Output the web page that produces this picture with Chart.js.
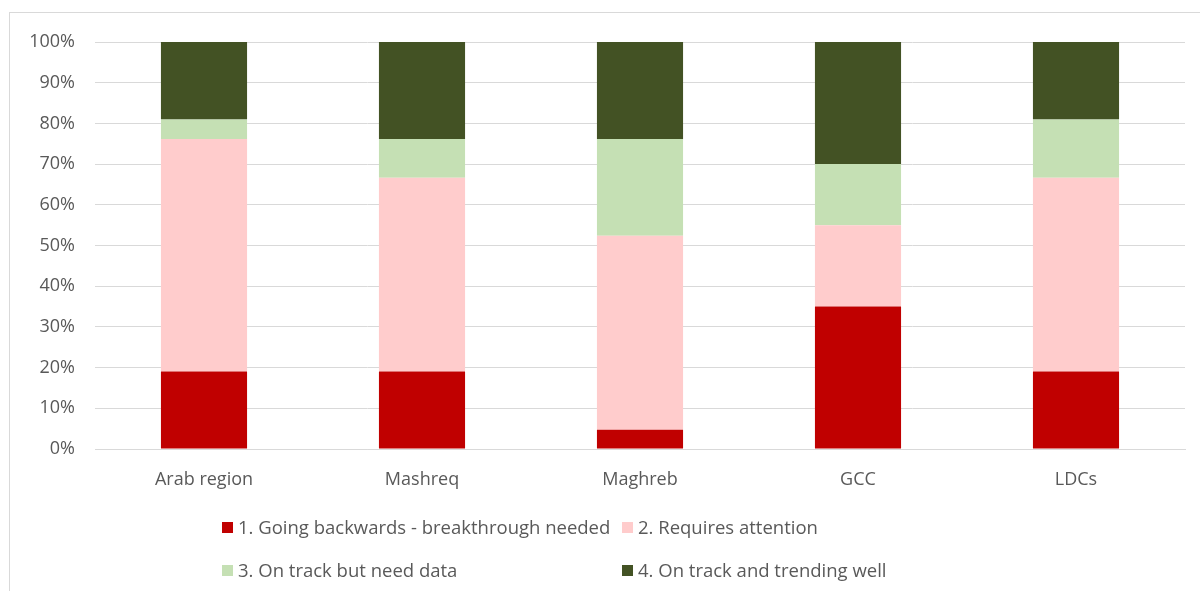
<!DOCTYPE html>
<html lang="en">
<head>
  <meta charset="UTF-8" />
  <title>Progress by sub-region</title>
  <script src="https://cdn.jsdelivr.net/npm/chart.js"></script>
  <style>
    body { margin: 0; background: #fff; }
    #caja { position: relative; width: 1200px; height: 591px; overflow: hidden; }
    #marco { position: absolute; left: 9px; top: 12px; width: 1300px; height: 700px; border: 1px solid #d9d9d9; }
    #leyenda { position: absolute; left: 222px; top: 513px; width: 800px;
      display: grid; grid-template-columns: 400px 400px; row-gap: 16px;
      font-family: "Open Sans", Lato, sans-serif; font-size: 18.5px; color: #595959; }
    #leyenda span.c { display: inline-block; width: 11px; height: 11px; margin-right: 5px; vertical-align: 1px; }
    #leyenda div { white-space: nowrap; line-height: 27px; }
  </style>
</head>
<body>
  <div id="caja">
    <div id="marco"></div>
    <canvas id="grafico" width="1200" height="591"></canvas>
    <div id="leyenda"></div>
  </div>

  <script>
    const categorias = ['Arab region', 'Mashreq', 'Maghreb', 'GCC', 'LDCs'];
    const retroceso = [19.05, 19.05, 4.76, 35, 19.05];
    const atencion = [57.14, 47.62, 47.62, 20, 47.62];
    const faltanDatos = [4.76, 9.52, 23.81, 15, 14.29];
    const vaBien = [19.05, 23.81, 23.81, 30, 19.05];
    const marcasY = [0, 10, 20, 30, 40, 50, 60, 70, 80, 90, 100];

    const series = [
      { label: '1. Going backwards - breakthrough needed', data: retroceso, color: '#c00000' },
      { label: '2. Requires attention', data: atencion, color: '#ffcccc' },
      { label: '3. On track but need data', data: faltanDatos, color: '#c5e0b4' },
      { label: '4. On track and trending well', data: vaBien, color: '#435224' }
    ];

    const fuente = { family: '"Open Sans", Lato, sans-serif', size: 18 };

    new Chart(document.getElementById('grafico'), {
      type: 'bar',
      data: {
        labels: categorias,
        datasets: series.map(s => ({
          label: s.label,
          data: s.data,
          backgroundColor: s.color,
          categoryPercentage: 1,
          barPercentage: 0.395
        }))
      },
      options: {
        responsive: false,
        animation: false,
        layout: { padding: { top: 42, right: 15, bottom: 102, left: 0 } },
        plugins: { legend: { display: false }, tooltip: { enabled: false } },
        scales: {
          x: {
            stacked: true,
            grid: { display: false },
            border: { color: '#d9d9d9' },
            ticks: { color: '#595959', font: fuente, padding: 12 },
            afterFit: s => { s.height = 40; }
          },
          y: {
            stacked: true,
            min: 0,
            max: 100,
            afterBuildTicks: s => { s.ticks = marcasY.map(v => ({ value: v })); },
            grid: { color: '#d9d9d9', drawTicks: false },
            border: { display: false },
            ticks: { color: '#595959', font: fuente, padding: 20, callback: v => v + '%' },
            afterFit: s => { s.width = 95; }
          }
        }
      }
    });

    const leyenda = document.getElementById('leyenda');
    series.forEach(s => {
      const d = document.createElement('div');
      d.innerHTML = '<span class="c" style="background:' + s.color + '"></span>' + s.label;
      leyenda.appendChild(d);
    });
  </script>
</body>
</html>
